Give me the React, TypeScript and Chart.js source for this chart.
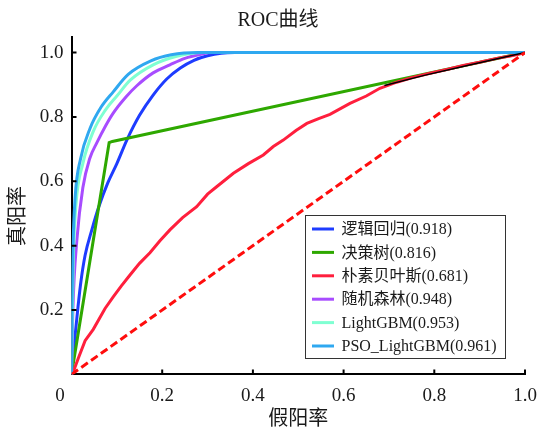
import { useEffect, useRef } from 'react';
import { Chart, registerables } from 'chart.js';

Chart.register(...registerables);

const FONT = '"Liberation Serif", "Times New Roman", "Noto Sans CJK SC", serif';

const seriesLabels = ['逻辑回归(0.918)', '决策树(0.816)', '朴素贝叶斯(0.681)', '随机森林(0.948)', 'LightGBM(0.953)', 'PSO_LightGBM(0.961)'];
const seriesColors = ['#1e3cff', '#2ea800', '#ff1f3d', '#a84cff', '#7fffd2', '#2fa8f0'];

const lrX = [0, 0.003, 0.01, 0.02, 0.03, 0.045, 0.06, 0.08, 0.1, 0.122, 0.15, 0.18, 0.21, 0.24, 0.27, 0.3, 0.33, 0.36, 1];
const lrY = [0, 0.05, 0.15, 0.28, 0.37, 0.45, 0.52, 0.595, 0.655, 0.728, 0.805, 0.868, 0.918, 0.952, 0.976, 0.99, 0.998, 1, 1];

const dtX = [0, 0.083, 0.09, 1];
const dtY = [0, 0.72, 0.724, 1];

const nbX = [0, 0.004, 0.015, 0.03, 0.048, 0.074, 0.092, 0.11, 0.129, 0.15, 0.173, 0.195, 0.217, 0.245, 0.276, 0.3, 0.32, 0.357, 0.39, 0.423, 0.445, 0.467, 0.495, 0.519, 0.545, 0.57, 0.614, 0.65, 0.68, 0.717, 0.75, 0.791, 0.83, 0.864, 0.9, 0.938, 0.97, 1];
const nbY = [0, 0.008, 0.05, 0.105, 0.14, 0.205, 0.241, 0.275, 0.309, 0.345, 0.378, 0.415, 0.449, 0.487, 0.521, 0.56, 0.583, 0.625, 0.655, 0.682, 0.708, 0.728, 0.758, 0.78, 0.795, 0.808, 0.842, 0.865, 0.889, 0.908, 0.922, 0.936, 0.948, 0.96, 0.97, 0.982, 0.99, 1];

const rfX = [0, 0.003, 0.012, 0.025, 0.04, 0.056, 0.075, 0.092, 0.12, 0.144, 0.18, 0.217, 0.25, 0.283, 0.31, 1];
const rfY = [0, 0.2, 0.42, 0.58, 0.67, 0.72, 0.772, 0.812, 0.862, 0.897, 0.937, 0.962, 0.982, 0.994, 1, 1];

const lgbX = [0, 0.002, 0.004, 0.01, 0.025, 0.048, 0.075, 0.1, 0.13, 0.18, 0.23, 0.29, 1];
const lgbY = [0, 0.2, 0.36, 0.53, 0.655, 0.755, 0.822, 0.865, 0.915, 0.962, 0.988, 1, 1];

const psoX = [0, 0.001, 0.003, 0.008, 0.02, 0.041, 0.065, 0.092, 0.125, 0.175, 0.22, 0.28, 1];
const psoY = [0, 0.2, 0.38, 0.55, 0.67, 0.765, 0.83, 0.878, 0.932, 0.974, 0.993, 1, 1];

const blackX = [0.69, 0.78, 0.88, 1];
const blackY = [0.898, 0.93, 0.962, 1];

const diagX = [0, 1];
const diagY = [0, 1];

const xTicks = [0, 0.2, 0.4, 0.6, 0.8, 1.0];
const yTicks = [0.2, 0.4, 0.6, 0.8, 1.0];

const pts = (xs: number[], ys: number[]) => xs.map((x, i) => ({ x, y: ys[i] }));

const decor = {
  id: 'decor',
  afterDraw(chart: any) {
    const { ctx, chartArea } = chart;
    const xs = chart.scales.x;
    const ys = chart.scales.y;
    ctx.save();
    // inward ticks
    ctx.strokeStyle = '#000';
    ctx.lineWidth = 2;
    ctx.beginPath();
    for (const v of xTicks) {
      if (v === 0) continue;
      const px = xs.getPixelForValue(v);
      ctx.moveTo(px, chartArea.bottom);
      ctx.lineTo(px, chartArea.bottom - 5);
    }
    for (const v of yTicks) {
      const py = ys.getPixelForValue(v);
      ctx.moveTo(chartArea.left, py);
      ctx.lineTo(chartArea.left + 5, py);
    }
    ctx.stroke();

    ctx.fillStyle = '#1a1a1a';
    ctx.textBaseline = 'middle';
    ctx.textAlign = 'center';
    // title
    ctx.font = `20px ${FONT}`;
    ctx.fillText('ROC曲线', 278, 21);
    // x "0" label
    ctx.font = `19px ${FONT}`;
    ctx.fillText('0', 60, 396);
    // y title
    ctx.save();
    ctx.translate(19, 216);
    ctx.rotate(-Math.PI / 2);
    ctx.font = `20px ${FONT}`;
    ctx.fillText('真阳率', 0, 0);
    ctx.restore();

    // legend
    const bx = 305, by = 215, bw = 200, bh = 143;
    ctx.fillStyle = '#fff';
    ctx.fillRect(bx, by, bw, bh);
    ctx.strokeStyle = '#333';
    ctx.lineWidth = 1;
    ctx.strokeRect(bx + 0.5, by + 0.5, bw, bh);
    ctx.font = `16px ${FONT}`;
    ctx.textAlign = 'left';
    seriesLabels.forEach((lab, i) => {
      const yy = 229 + i * 23.4;
      ctx.strokeStyle = seriesColors[i];
      ctx.lineWidth = 3;
      ctx.beginPath();
      ctx.moveTo(312, yy);
      ctx.lineTo(334, yy);
      ctx.stroke();
      ctx.fillStyle = '#1a1a1a';
      ctx.fillText(lab, 341.5, yy + 1);
    });
    ctx.restore();
  },
};

export default function App() {
  const ref = useRef<HTMLCanvasElement | null>(null);
  useEffect(() => {
    if (!ref.current) return;
    const mk = (i: number, xs: number[], ys: number[], order: number, smooth = true) => ({
      label: seriesLabels[i],
      data: pts(xs, ys),
      borderColor: seriesColors[i],
      backgroundColor: seriesColors[i],
      borderWidth: 3,
      pointRadius: 0,
      fill: false,
      order,
      cubicInterpolationMode: smooth ? 'monotone' : 'default',
      tension: smooth ? 0.4 : 0,
    });
    const chart = new Chart(ref.current, {
      type: 'line',
      data: {
        datasets: [
          mk(0, lrX, lrY, 7),
          mk(1, dtX, dtY, 6, false),
          mk(2, nbX, nbY, 5, false),
          mk(3, rfX, rfY, 4),
          mk(4, lgbX, lgbY, 3),
          mk(5, psoX, psoY, 2),
          {
            label: 'black',
            data: pts(blackX, blackY),
            borderColor: '#000',
            borderWidth: 1.5,
            pointRadius: 0,
            fill: false,
            order: 1,
            tension: 0,
          } as any,
          {
            label: 'diag',
            data: pts(diagX, diagY),
            borderColor: '#ff0d0d',
            borderWidth: 3,
            borderDash: [8, 4],
            pointRadius: 0,
            fill: false,
            order: 0,
            tension: 0,
          } as any,
        ] as any,
      },
      options: {
        animation: false,
        responsive: true,
        maintainAspectRatio: false,
        layout: { padding: { top: 36.5, right: 12, left: 0, bottom: 0 } },
        plugins: { legend: { display: false }, tooltip: { enabled: false }, title: { display: false } },
        scales: {
          x: {
            type: 'linear',
            min: 0,
            max: 1,
            grid: { display: false, drawTicks: false },
            border: { display: true, color: '#000', width: 2 },
            afterBuildTicks: (s: any) => { s.ticks = xTicks.map((v) => ({ value: v })); },
            afterFit: (s: any) => { s.height = 59.6; s.paddingRight = 0; s.paddingLeft = 0; },
            ticks: {
              padding: 10,
              maxRotation: 0,
              autoSkip: false,
              color: '#1a1a1a',
              font: { family: FONT, size: 19 },
              callback: (v: any) => (v === 0 ? '' : Number(v).toFixed(1)),
            },
            title: {
              display: true,
              text: '假阳率',
              color: '#1a1a1a',
              font: { family: FONT, size: 20 },
              padding: { top: 0, bottom: 2 },
            },
          },
          y: {
            type: 'linear',
            min: 0,
            max: 1.05,
            grid: { display: false, drawTicks: false },
            border: { display: true, color: '#000', width: 2 },
            afterBuildTicks: (s: any) => { s.ticks = yTicks.map((v) => ({ value: v })); },
            afterFit: (s: any) => { s.width = 71.5; s.paddingTop = 0; s.paddingBottom = 0; },
            ticks: {
              padding: 8,
              autoSkip: false,
              color: '#1a1a1a',
              font: { family: FONT, size: 19 },
              callback: (v: any) => Number(v).toFixed(1),
            },
          },
        },
      } as any,
      plugins: [decor],
    });
    return () => chart.destroy();
  }, []);
  return (
    <div style={{ position: 'fixed', left: 0, top: 0, width: 537, height: 434, background: '#fff' }}>
      <canvas ref={ref} style={{ width: '100%', height: '100%' }} />
    </div>
  );
}
